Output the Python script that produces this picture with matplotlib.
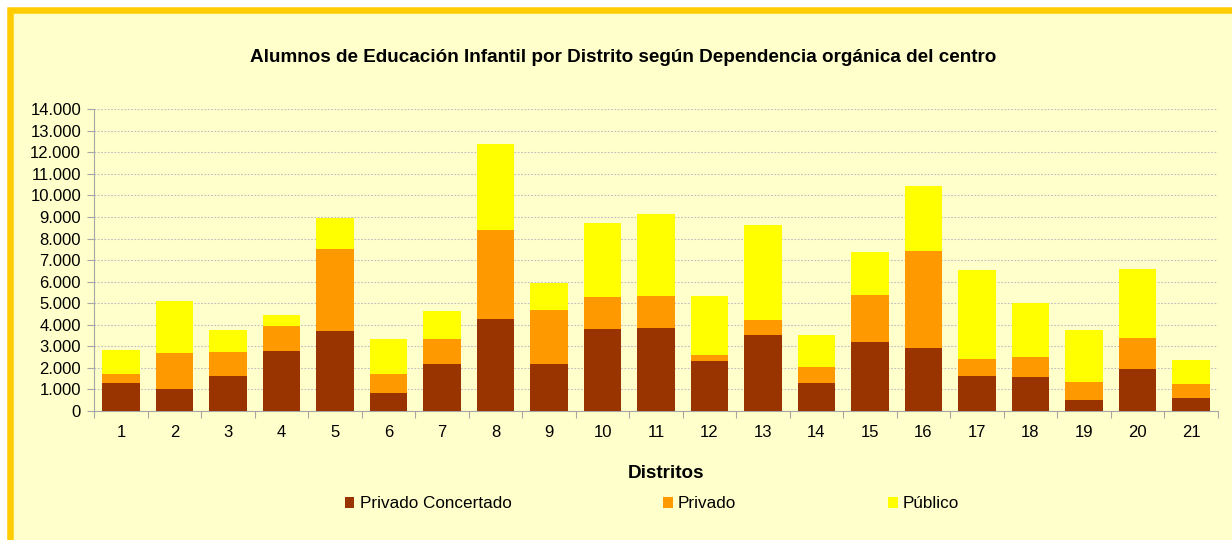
import matplotlib
matplotlib.use("Agg")
import matplotlib.pyplot as plt
from matplotlib.patches import Rectangle
from matplotlib.ticker import FuncFormatter, MultipleLocator, FixedLocator

plt.rcParams['font.family'] = ['Liberation Sans', 'DejaVu Sans']

distritos = [str(i) for i in range(1, 22)]
privado_concertado = [1315, 1021, 1609, 2800, 3697, 820, 2180, 4254, 2180, 3790, 3852,
                      2336, 3512, 1284, 3202, 2939, 1640, 1578, 526, 1934, 619]
privado = [418, 1686, 1145, 1160, 3837, 880, 1177, 4131, 2523, 1516, 1501,
           278, 727, 743, 2166, 4502, 789, 928, 835, 1439, 650]
publico = [1098, 2383, 1005, 480, 1408, 1657, 1269, 4022, 1222, 3404, 3790,
           2739, 4393, 1500, 2011, 2986, 4130, 2491, 2383, 3217, 1098]
series_names = ["Privado Concertado", "Privado", "Público"]
colors = ["#993300", "#FF9900", "#FFFF00"]
title = "Alumnos de Educación Infantil por Distrito según Dependencia orgánica del centro"

W, H = 1232, 540
fig = plt.figure(figsize=(W / 100, H / 100), dpi=100)
fig.patch.set_facecolor("white")

# chart frame (gold border, pale yellow fill)
bw = 6.5
fig.patches.append(Rectangle(((7 + bw / 2) / W, -0.1), 1.2, 1 - (7 + bw / 2) / H + 0.1,
                             transform=fig.transFigure, facecolor="#FFFFCC",
                             edgecolor="#FFCC00", linewidth=bw * 0.72, zorder=-5))

x0, x1 = 94.3, 1217.7
y0, y1 = 411, 109.3
ax = fig.add_axes([x0 / W, 1 - y0 / H, (x1 - x0) / W, (y0 - y1) / H])
ax.set_facecolor("none")
ax.set_zorder(2)

x = list(range(1, 22))
bottom1 = privado_concertado
bottom2 = [a + b for a, b in zip(privado_concertado, privado)]
ax.bar(x, privado_concertado, width=0.705, color=colors[0], label=series_names[0], zorder=3)
ax.bar(x, privado, width=0.705, bottom=bottom1, color=colors[1], label=series_names[1], zorder=3)
ax.bar(x, publico, width=0.705, bottom=bottom2, color=colors[2], label=series_names[2], zorder=3)

ax.set_xlim(0.5, 21.5)
ax.set_ylim(0, 14000)
ax.yaxis.set_major_locator(MultipleLocator(1000))
ax.yaxis.set_major_formatter(FuncFormatter(lambda v, p: f"{int(v):,}".replace(",", ".")))
ax.grid(axis="y", color="#BDBDBD", linestyle=(0, (1.5, 1.5)), linewidth=0.8, zorder=1)
ax.set_axisbelow(True)

ax.set_xticks(x)
ax.set_xticklabels(distritos)
ax.xaxis.set_minor_locator(FixedLocator([i + 0.5 for i in range(0, 22)]))
ax.tick_params(axis="x", which="major", length=0, pad=10, labelsize=12, colors="black")
ax.tick_params(axis="x", which="minor", length=5, color="#A6A6A6", width=0.8)
ax.tick_params(axis="y", which="major", length=5, color="#A6A6A6", width=0.8,
               labelsize=12, pad=4.5)
for s in ["top", "right"]:
    ax.spines[s].set_visible(False)
for s in ["left", "bottom"]:
    ax.spines[s].set_color("#A6A6A6")
    ax.spines[s].set_linewidth(0.8)

fig.text(623.5 / W, 1 - 57.7 / H, title, ha="center", va="center",
         fontsize=13.6, fontweight="bold")
fig.text(666 / W, 1 - 473 / H, "Distritos", ha="center", va="center",
         fontsize=13.6, fontweight="bold")

leg = fig.legend(loc="center", bbox_to_anchor=(652 / W, 1 - 504 / H), ncol=3,
                 frameon=False, fontsize=12.3, handlelength=0.55, handleheight=0.55,
                 handletextpad=0.3, columnspacing=8.9, borderpad=0)

fig.savefig("out.png", dpi=100, facecolor=fig.get_facecolor())
